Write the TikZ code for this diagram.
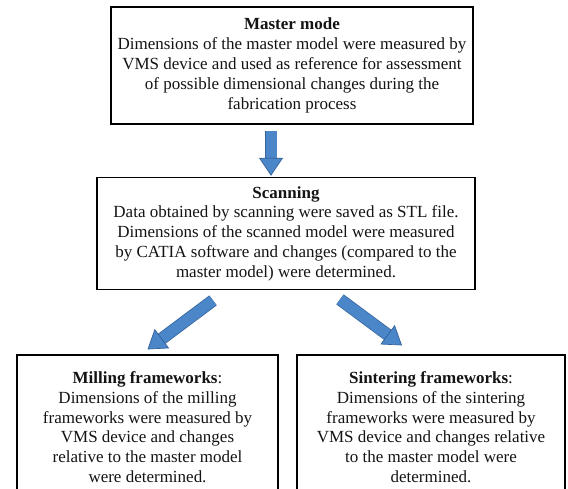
\documentclass[tikz,border=0pt]{standalone}
\usepackage{fontspec}
\setmainfont{Liberation Serif}
\usetikzlibrary{arrows.meta,positioning}
\definecolor{arrowfill}{RGB}{74,134,200}
\definecolor{arrowedge}{RGB}{52,98,155}
\definecolor{textgray}{RGB}{20,20,20}

\begin{document}
\begin{tikzpicture}[x=1pt,y=-1pt,
  stage/.style={draw=black,line width=1.6pt,fill=white,align=center,inner sep=3pt,
    text=textgray,font=\fontsize{17}{19.8}\selectfont},
  fatarrow/.style={line width=11pt,draw=arrowfill,
    -{Triangle[length=18pt,width=24pt,fill=arrowfill,color=arrowedge,line width=0.7pt]},
    preaction={draw=arrowedge,line width=12.4pt,-,shorten >=16pt}}
]
\clip (0,0) rectangle (568,488);
\node[stage,minimum width=362pt,minimum height=117pt] (master) at (292,65.5)
  {\textbf{Master mode}\\Dimensions of the master model were measured by\\
   VMS device and used as reference for assessment\\of possible dimensional changes during the\\
   fabrication process};
\node[stage,minimum width=378pt,minimum height=112pt,below=52pt of master,xshift=-6pt] (scan)
  {\textbf{Scanning}\\Data obtained by scanning were saved as STL file.\\
   Dimensions of the scanned model were measured\\by CATIA software and changes (compared to the\\
   master model) were determined.};
\node[stage,minimum width=261pt,minimum height=144pt,below=64pt of scan,xshift=-138.5pt] (mill)
  {\textbf{Milling frameworks}:\\Dimensions of the milling\\frameworks were measured by\\
   VMS device and changes\\relative to the master model\\were determined.};
\node[stage,minimum width=268pt,minimum height=144pt,below=64pt of scan,xshift=145pt] (sinter)
  {\textbf{Sintering frameworks}:\\Dimensions of the sintering\\frameworks were measured by\\
   VMS device and changes relative\\to the master model were\\determined.};
\draw[fatarrow] ([xshift=-21pt,yshift=-6pt]master.south) -- ([xshift=-15pt,yshift=1pt]scan.north);
\draw[fatarrow] ([xshift=-73pt,yshift=-10pt]scan.south) -- ([yshift=5pt]mill.north);
\draw[fatarrow] ([xshift=54pt,yshift=-9pt]scan.south) -- ([xshift=-29pt,yshift=9pt]sinter.north);
\end{tikzpicture}
\end{document}
